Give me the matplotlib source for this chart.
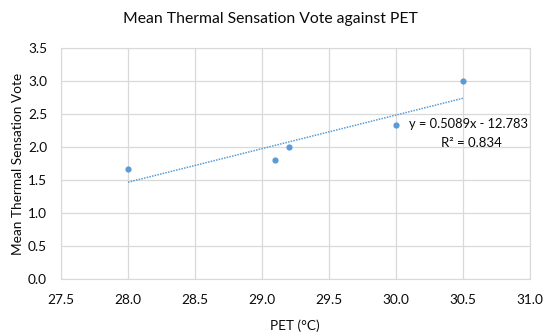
import matplotlib
matplotlib.use("Agg")
import matplotlib.pyplot as plt
import numpy as np

pet = [28.0, 29.1, 29.2, 30.0, 30.5]
mtsv = [1.67, 1.80, 2.00, 2.33, 3.00]
slope = 0.5089
intercept = -12.783
r2 = 0.834
xticks = [27.5, 28.0, 28.5, 29.0, 29.5, 30.0, 30.5, 31.0]
yticks = [0.0, 0.5, 1.0, 1.5, 2.0, 2.5, 3.0, 3.5]

plt.rcParams['font.family'] = ['Lato', 'DejaVu Sans']
TXT = '#0a0a0a'
FS = 9.8

W, H = 544, 336
fig = plt.figure(figsize=(W / 100, H / 100), dpi=100)
ax = fig.add_axes([61 / W, 1 - 279 / H, 469 / W, 231 / H])

ax.scatter(pet, mtsv, s=20, color='#5B9BD5', zorder=3, linewidths=0)
tx = np.array([min(pet), max(pet)])
ax.plot(tx, slope * tx + intercept, linestyle=(0, (1, 0.8)), color='#5B9BD5', linewidth=1.1, zorder=2)

ax.set_xlim(27.5, 31.0)
ax.set_ylim(0.0, 3.5)
ax.set_xticks(xticks)
ax.set_yticks(yticks)
ax.set_xticklabels([f"{v:.1f}" for v in xticks])
ax.set_yticklabels([f"{v:.1f}" for v in yticks])
ax.grid(True, color='#d9d9d9', linewidth=0.9)
ax.set_axisbelow(True)
for s in ax.spines.values():
    s.set_color('#d9d9d9')
ax.tick_params(length=0, labelsize=FS, colors=TXT)
ax.tick_params(axis='x', pad=11)
ax.tick_params(axis='y', pad=10)

def ptext(x, y, s, fs, ha='center', rot=0):
    return fig.text(x / W, 1 - y / H, s, ha=ha, va='center', rotation=rot,
                    color=TXT, fontsize=fs)

ptext(528, 124, f"y = {slope}x - {abs(intercept)}", 9.3, ha='right')
ptext(471, 143, f"R² = {r2}", 9.5)
ptext(295, 326, "PET (°C)", FS)
ptext(18, 164, "Mean Thermal Sensation Vote", 9.8, rot=90)
ptext(270, 19, "Mean Thermal Sensation Vote against PET", 11.3)

fig.savefig("out.png", dpi=100)
